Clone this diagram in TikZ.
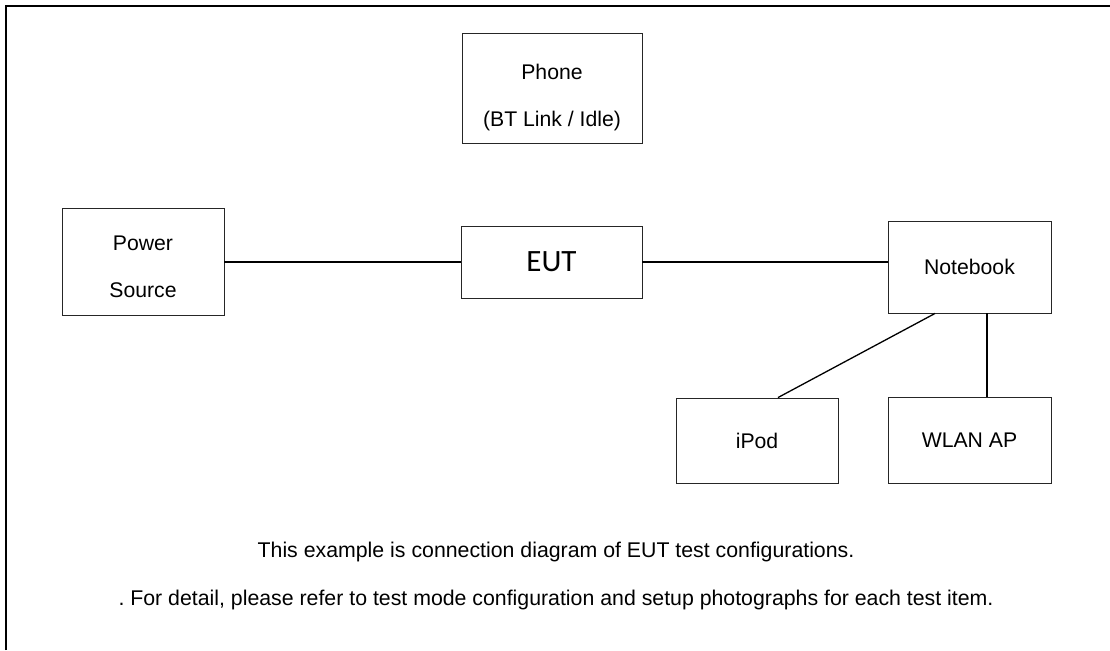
\documentclass[tikz,border=0pt]{standalone}
\usepackage{fontspec}
\setmainfont{Liberation Sans}
\newfontfamily\eutfont{Carlito}
\frenchspacing
\begin{document}
\begin{tikzpicture}[x=1pt,y=1pt,
  box/.style={draw=black!85, line width=0.9pt, inner sep=0pt, align=center,
    font=\fontsize{21.2}{47}\selectfont},
  boxtext/.style={inner sep=0pt, align=center, font=\fontsize{21.2}{47}\selectfont},
  wire/.style={line width=1.3pt},
  thickwire/.style={line width=2.2pt},
  note/.style={align=center, font=\fontsize{21.3}{48}\selectfont}]
\useasboundingbox (0,0) rectangle (1110,-650);
\fill[white] (0,0) rectangle (1110,-650);
% outer frame (only left and top edges visible)
\coordinate (ftl) at (6,-6);
\coordinate (ftr) at (1110,-6);
\coordinate (fbl) at (6,-650);
\draw[line width=2.6pt] (fbl) -- (ftl) -- (ftr);
% nodes
\node[box, minimum width=180pt, minimum height=110pt] (phone) at (552,-88) {};
\node[boxtext] (phonetxt) at (552,-97.5) {Phone\\(BT Link / Idle)};
\node[box, minimum width=162pt, minimum height=107pt] (power) at (143,-261.5) {};
\node[boxtext] (powertxt) at (143,-266.5) {Power\\Source};
\node[box, minimum width=181pt, minimum height=72pt, font=\eutfont\fontsize{31}{36}\selectfont] (eut) at (551.5,-262) {EUT};
\node[box, minimum width=163pt, minimum height=92pt] (nb) at (969.5,-267) {Notebook};
\node[box, minimum width=162pt, minimum height=85pt] (ipod) at (757,-440.5) {iPod};
\node[box, minimum width=163pt, minimum height=86pt] (wlan) at (969.5,-440) {WLAN AP};
% connectors
\draw[wire] (power.east |- eut.west) -- (eut.west);
\draw[wire] (eut.east) -- (eut.east -| nb.west);
\draw[wire] ([xshift=-34.5pt]nb.south) -- ([xshift=21pt]ipod.north);
\draw[thickwire] ([xshift=17.5pt]nb.south) -- ([xshift=17.5pt]wlan.north);
% note
\node[note] (txt) at (556,-576) {This example is connection diagram of EUT test configurations.\\. For detail, please refer to test mode configuration and setup photographs for each test item.};
\end{tikzpicture}
\end{document}
